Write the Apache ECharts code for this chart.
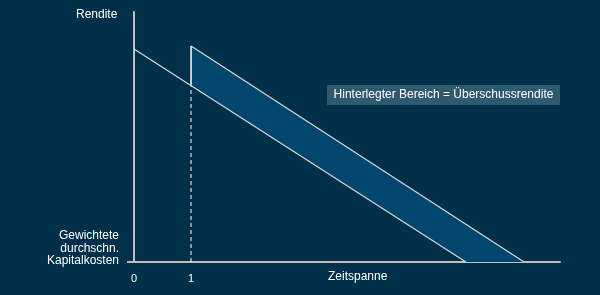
<!DOCTYPE html>
<html><head><meta charset="utf-8">
<script src="https://cdn.jsdelivr.net/npm/echarts@6/dist/echarts.min.js"></script>
<style>html,body{margin:0;padding:0;background:#00304a;}#c{width:600px;height:295px;}</style>
</head><body><div id="c"></div>
<script>
// Data (abstract units: x = Zeitspanne, y = Rendite above WACC)
var xTicks = [0, 1];
var lowerLine = [[0, 85.2], [5.82, 0]];     // return curve starting at t=0
var upperLine = [[1, 86.4], [6.84, 0]];     // return curve starting at t=1
var xMax = 7.47, yMax = 100;
var yLabel = 'Rendite';
var xLabel = 'Zeitspanne';
var waccLabel = 'Gewichtete\ndurchschn.\nKapitalkosten';
var note = 'Hinterlegter Bereich = Überschussrendite';

function lowerAt(x) {
  var a = lowerLine[0], b = lowerLine[1];
  return a[1] + (b[1] - a[1]) * (x - a[0]) / (b[0] - a[0]);
}
var x1 = upperLine[0][0];
var yCross = lowerAt(x1);

var chart = echarts.init(document.getElementById('c'), null, {renderer: 'canvas'});
var font = 'Arial, "Liberation Sans", sans-serif';
chart.setOption({
  backgroundColor: '#00304a',
  animation: false,
  grid: {left: 134, right: 40, top: 12, bottom: 33},
  xAxis: {
    type: 'value', min: 0, max: xMax,
    splitLine: {show: false},
    axisLine: {lineStyle: {color: '#bfbfbf', width: 2}},
    axisTick: {show: false},
    axisLabel: {customValues: xTicks, color: '#ffffff', fontSize: 11, fontFamily: font, margin: 11}
  },
  yAxis: {
    type: 'value', min: 0, max: yMax,
    splitLine: {show: false},
    axisLine: {show: true, lineStyle: {color: '#bfbfbf', width: 2}},
    axisTick: {show: true, customValues: [0], length: 7, lineStyle: {color: '#bfbfbf', width: 2}},
    axisLabel: {show: false}
  },
  graphic: [
    {type: 'text', left: 76, top: 9, style: {text: yLabel, fill: '#ffffff', font: '12px ' + font}},
    {type: 'text', x: 119, y: 267, style: {text: waccLabel, fill: '#ffffff', font: '12px ' + font, align: 'right', verticalAlign: 'bottom', lineHeight: 12.5}},
    {type: 'text', left: 328, top: 271, style: {text: xLabel, fill: '#ffffff', font: '12px ' + font}},
    {type: 'rect', shape: {x: 327, y: 85, width: 233, height: 20}, style: {fill: '#2e5a70'}},
    {type: 'text', x: 443.5, y: 95, style: {text: note, fill: '#ffffff', font: '12px ' + font, align: 'center', verticalAlign: 'middle'}}
  ],
  series: [
    {
      type: 'custom', silent: true, z: 1,
      data: [0],
      renderItem: function (params, api) {
        var pts = [
          api.coord([x1, yCross]),
          api.coord(upperLine[0]),
          api.coord(upperLine[1]),
          api.coord(lowerLine[1])
        ];
        var vb = api.coord([x1, 0]);
        var vm = api.coord([x1, yCross]);
        var vt = api.coord(upperLine[0]);
        return {type: 'group', children: [
          {type: 'polygon', shape: {points: pts}, style: {fill: '#00466d'}},
          {type: 'line', shape: {x1: vb[0], y1: vb[1], x2: vm[0], y2: vm[1]}, style: {stroke: '#ffffff', lineWidth: 1, lineDash: [4, 3]}},
          {type: 'line', shape: {x1: vm[0], y1: vm[1], x2: vt[0], y2: vt[1]}, style: {stroke: '#ffffff', lineWidth: 1.5}}
        ]};
      }
    },
    {type: 'line', data: lowerLine, symbol: 'none', z: 3, lineStyle: {color: '#d9d9d9', width: 1.2}},
    {type: 'line', data: upperLine, symbol: 'none', z: 3, lineStyle: {color: '#d9d9d9', width: 1.2}}
  ]
});
</script>
</body></html>
